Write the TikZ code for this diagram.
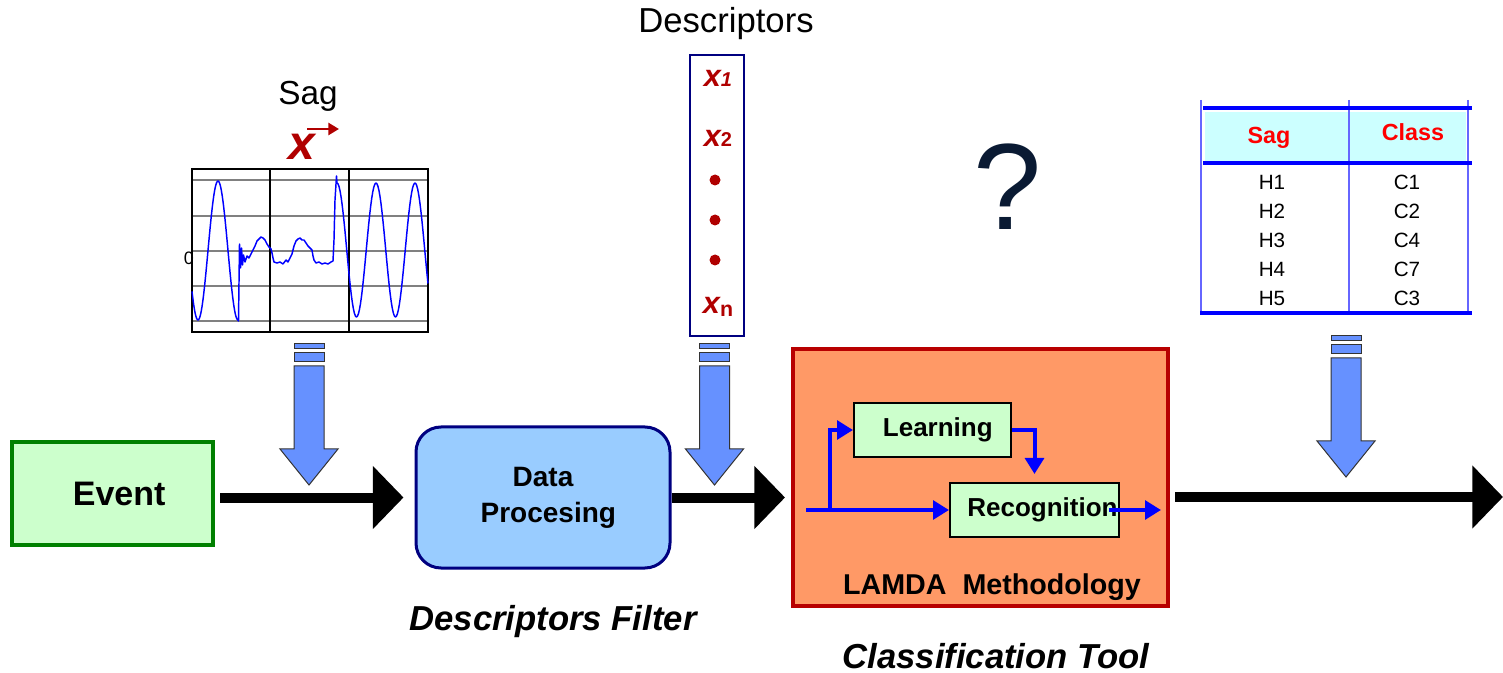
\documentclass[tikz,border=0pt]{standalone}
\usepackage{fontspec}
\setmainfont{Liberation Sans}
\usetikzlibrary{arrows.meta}
\definecolor{evfill}{HTML}{CCFFCC}
\definecolor{evdraw}{HTML}{008000}
\definecolor{dpfill}{HTML}{99CCFF}
\definecolor{dpdraw}{HTML}{000080}
\definecolor{lmfill}{HTML}{FF9966}
\definecolor{lmdraw}{HTML}{B80000}
\definecolor{blkblue}{HTML}{6691FF}
\definecolor{darkred}{HTML}{B00000}
\definecolor{qmark}{HTML}{0A1A33}
\definecolor{hdrfill}{HTML}{CCFFFF}
\definecolor{vline}{HTML}{6666FF}
\tikzset{
  bigarrow/.style={line width=7.5pt,-{Triangle[length=23pt,width=46pt]}},
  bluearrow/.style={draw=blue,line width=3pt,-{Triangle[length=12pt,width=14pt]}},
  barrow/.style={fill=blkblue,draw=black!80,line width=0.75pt},
  greenbox/.style={draw=black,line width=1.5pt,fill=evfill,inner sep=0pt,font=\fontsize{19.5}{22}\selectfont\bfseries},
  blockarrow/.pic={
    \filldraw[barrow] (-15,0) rectangle (15,5);
    \filldraw[barrow] (-15,9) rectangle (15,18);
    \filldraw[barrow] (-15,22) -- (15,22) -- (15,105) -- (29,105) -- (0,141) -- (-29,105) -- (-15,105) -- cycle;
  },
  desc/.style={text=darkred,font=\fontsize{23}{23}\selectfont\bfseries\itshape},
  dot/.style={circle,fill=darkred,inner sep=0pt,minimum size=8.25pt},
  cell/.style={font=\fontsize{15.5}{16}\selectfont},
  hdr/.style={text=red,font=\fontsize{17.5}{18}\selectfont\bfseries},
  wave/.style={draw=blue,line width=1.1pt,line join=round}
}
\begin{document}
\begin{tikzpicture}[x=0.75pt,y=-0.75pt]
\useasboundingbox (0,0) rectangle (1503,673);

% ---- main nodes
\node[draw=evdraw,line width=3pt,fill=evfill,minimum width=150.75pt,minimum height=77.25pt,
      font=\fontsize{25.5}{28}\selectfont\bfseries] (event) at (112.5,493.5) {\hspace*{10pt}Event};
\node[draw=dpdraw,line width=2.25pt,fill=dpfill,rounded corners=18.75pt,minimum width=190.5pt,
      minimum height=105.75pt,align=center,font=\fontsize{21}{27}\selectfont\bfseries] (dp) at (543,497.5) {Data\\ \hspace*{8pt}Procesing};
\node[draw=lmdraw,line width=3pt,fill=lmfill,minimum width=281.25pt,minimum height=192.75pt] (lamda) at (980.5,477.5) {};
\node[greenbox,minimum width=117.75pt,minimum height=40.5pt] (learn) at (932.5,430) {\hspace*{8pt}Learning};
\node[greenbox,minimum width=126.75pt,minimum height=40.5pt] (recog) at (1034.5,510) {\hspace*{12pt}Recognition};
\node[font=\fontsize{21.5}{24}\selectfont\bfseries] (lamdalabel) at (992,587) {LAMDA\ \ Methodology};

% ---- black arrows
\coordinate (end) at (1503,497);
\draw[bigarrow,shorten <=3.75pt,shorten >=8.25pt] (event.east |- dp.west) -- (dp.west);
\draw[bigarrow,shorten >=4.5pt] (dp.east) -- (dp.east -| lamda.west);
\draw[bigarrow,shorten <=3.75pt] (lamda.east |- end) -- (end);

% ---- blue arrows inside LAMDA
\coordinate (in) at (806,510);
\coordinate (branch) at (830,510);
\coordinate (out) at (1161,510);
\draw[bluearrow] (in) -- (recog.west);
\draw[bluearrow] (branch) |- (learn.west);
\draw[bluearrow,shorten >=6pt] (learn.east) -| (recog.north);
\draw[bluearrow] ([xshift=-8.25pt]recog.east) -- (out);

% ---- block arrows
\pic at (309,344) {blockarrow};
\pic at (714.5,344) {blockarrow};
\pic at (1346,336) {blockarrow};

% ---- Sag plot
\node[font=\fontsize{25}{28}\selectfont] (saglabel) at (308,96) {Sag};
\node[text=darkred,font=\fontsize{36}{36}\selectfont\bfseries\itshape] (xvec) at (302,147) {x};
\coordinate (va) at (307,129);
\coordinate (vb) at (339,129);
\draw[darkred,line width=2pt,-{Triangle[length=8pt,width=9pt]}] (va) -- (vb);
\foreach \yy in {180,216,251,286,321} \draw[gray,line width=1.1pt] (192,\yy) -- (428,\yy);
\foreach \xx in {270,349} \draw[black,line width=1pt] (\xx,169) -- (\xx,332);
\draw[black,line width=1.3pt] (192,169) rectangle (428,332);
\node[font=\fontsize{13.5}{14}\selectfont] (zero) at (189,258) {0};
\draw[wave] plot[domain=192:237.5,samples=60] (\x,{250.5-69.5*cos(9*(\x-218))})
  -- (238.5,321) -- (239.5,244) -- (240.5,268) -- (241.5,248) -- (242.5,265) -- (243.5,255)
  -- (245,262) -- (247,256) -- (249,258) -- (251,254) -- (253,250) -- (255,246) -- (257,241)
  -- (259,239) -- (261,237) -- (263,238) -- (265,240) -- (267,244) -- (269,247) -- (271,249)
  -- (272,253) -- (273,258) -- (274,262) -- (277,263) -- (280,262) -- (283,264) -- (286,260)
  -- (288,262) -- (290,258) -- (292,254) -- (294,246) -- (296,241) -- (298,239) -- (300,238)
  -- (302,240) -- (304,240) -- (306,243) -- (308,246) -- (310,248) -- (312,250) -- (313,256)
  -- (314,260) -- (316,263) -- (319,262) -- (322,264) -- (325,263) -- (328,264) -- (331,262)
  -- (333,261) -- (334,240) -- (335,200) -- (336.5,176)
  -- plot[domain=337:428,samples=90] (\x,{250-67*cos(9.2308*(\x-376))});

% ---- Descriptors column
\node[font=\fontsize{26}{28}\selectfont] (desclabel) at (726,24) {Descriptors};
\node[draw=dpdraw,line width=1.5pt,fill=white,minimum width=40.5pt,minimum height=210.75pt] (descbox) at (717,195.5) {};
\node[desc] (x1) at (718,78) {x{\fontsize{15}{15}\selectfont 1}};
\node[desc] (x2) at (718,138) {x{\fontsize{15}{15}\selectfont\upshape 2}};
\node[dot] (d1) at (715,180) {};
\node[dot] (d2) at (715,220) {};
\node[dot] (d3) at (715,260) {};
\node[desc] (xn) at (718,307) {x{\fontsize{16}{16}\selectfont\upshape\raisebox{-2pt}{n}}};

% ---- question mark
\node[text=qmark,font=\fontsize{92}{96}\selectfont] (qm) at (1008,187) {?};

% ---- table
\fill[hdrfill] (1205,112) rectangle (1466,163);
\foreach \xx in {1201,1349,1468} \draw[vline,line width=1.5pt] (\xx,100) -- (\xx,313);
\draw[blue,line width=3pt] (1203,108.5) -- (1472,108.5);
\draw[blue,line width=3pt] (1203,163.5) -- (1472,163.5);
\draw[blue,line width=3pt] (1200,313) -- (1472,313);
\node[hdr] (hsag) at (1269,138) {Sag};
\node[hdr] (hclass) at (1413,132) {Class};
\foreach \i/\c/\yy in {1/1/182,2/2/211,3/4/240,4/7/269,5/3/298}{
  \node[cell] (h\i) at (1272,\yy) {H\i};
  \node[cell] (c\i) at (1407,\yy) {C\c};
}

% ---- bottom labels
\node[font=\fontsize{26}{28}\selectfont\bfseries\itshape] (dflabel) at (553,622) {Descriptors Filter};
\node[font=\fontsize{26}{28}\selectfont\bfseries\itshape] (ctlabel) at (996,656) {Classification Tool};
\end{tikzpicture}
\end{document}
